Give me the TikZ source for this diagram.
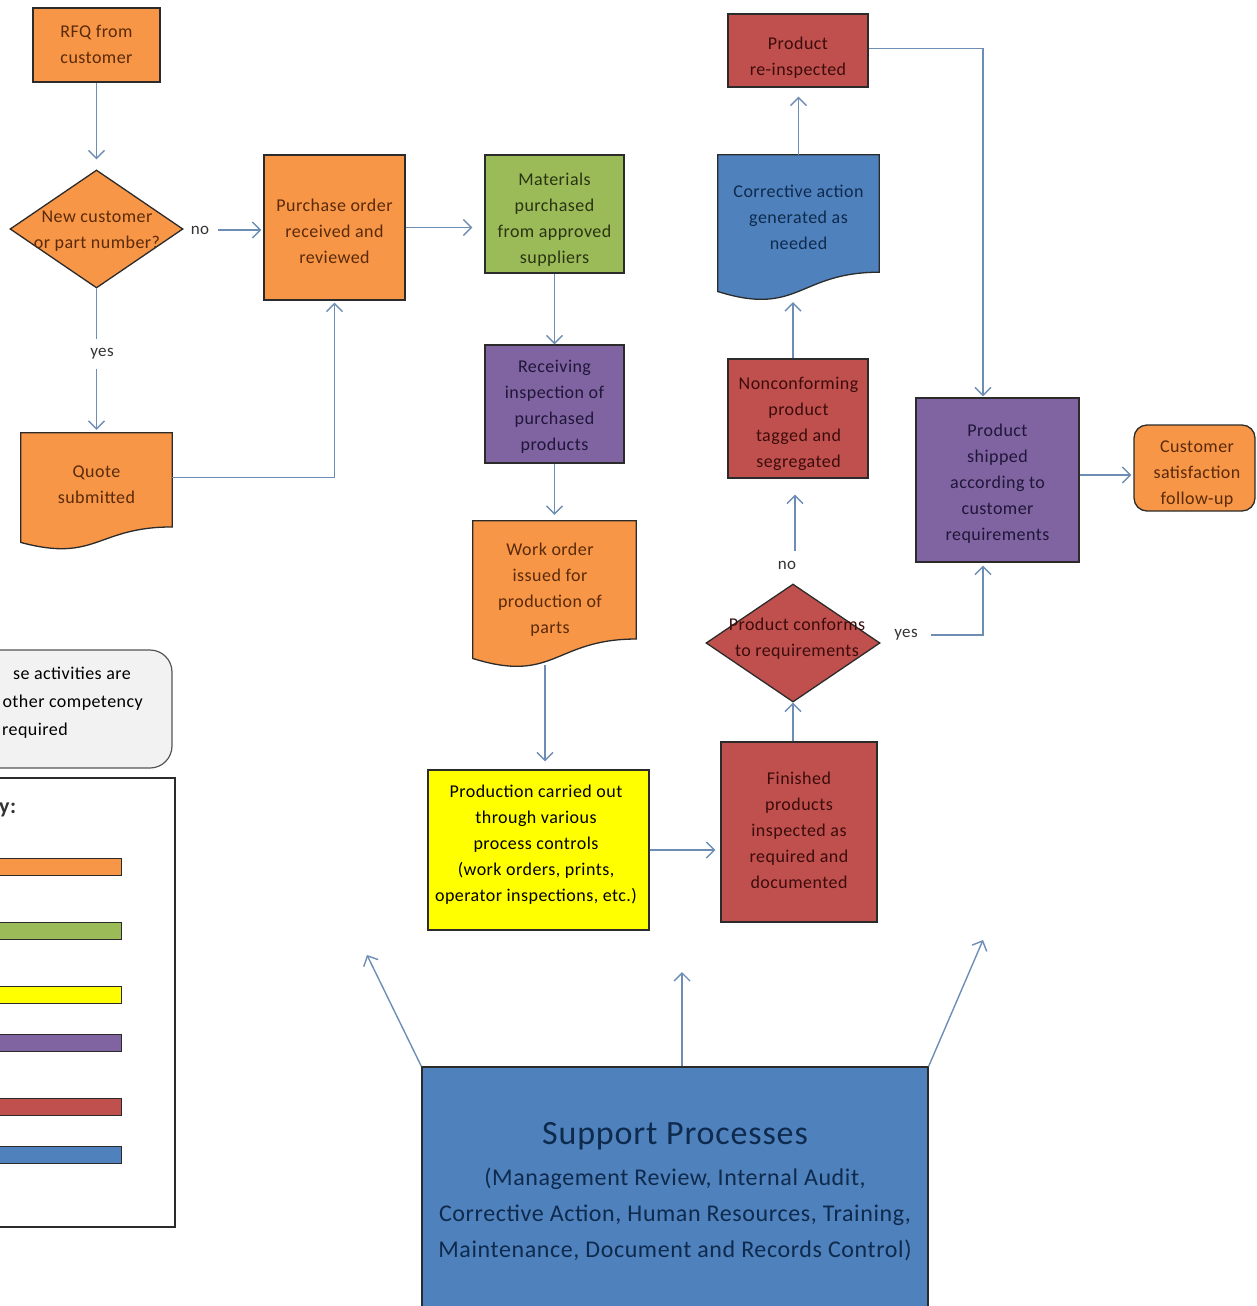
\documentclass[tikz,border=0pt]{standalone}
\usepackage{fontspec}
\setmainfont{Carlito}[LetterSpace=2.5]
\usetikzlibrary{shapes.geometric,arrows.meta,calc,backgrounds}
\definecolor{cOr}{HTML}{F79646}
\definecolor{cGr}{HTML}{9BBB59}
\definecolor{cPu}{HTML}{8064A2}
\definecolor{cRe}{HTML}{C0504D}
\definecolor{cBl}{HTML}{4F81BD}
\definecolor{cYe}{HTML}{FFFF00}
\definecolor{cNote}{HTML}{F2F2F2}
\definecolor{cBorder}{HTML}{2B2B2B}
\definecolor{cLine}{HTML}{6E8DB5}
\definecolor{tOr}{HTML}{5A2A0A}
\definecolor{tRe}{HTML}{3C0C0C}
\definecolor{tBl}{HTML}{0E2A4D}
\definecolor{tPu}{HTML}{1F1638}
\definecolor{tGr}{HTML}{2A3312}
\definecolor{tLab}{HTML}{333333}
\newcommand\docpath[2]{%
  \path[draw=cBorder,line width=1.3pt,fill=#2] (#1.north west) -- (#1.north east)
   -- ($(#1.north east)!0.802!(#1.south east)$)
   .. controls ($(#1.north)!0.802!(#1.south)$) and ($(#1.north)!1.1075!(#1.south)$)
   .. ($(#1.north west)!0.934!(#1.south west)$) -- cycle;}
\begin{document}
\begin{tikzpicture}[x=1pt,y=-1pt,
  boxsty/.style={draw=cBorder,line width=1.3pt,inner sep=0pt},
  txtsty/.style={align=center,inner sep=0pt,font=\fontsize{18}{26}\selectfont},
  dmd/.style={diamond,draw=cBorder,line width=1.3pt,inner sep=0pt},
  lab/.style={text=tLab,inner sep=9pt,font=\fontsize{17}{20}\selectfont},
  arr/.style={draw=cLine,line width=1.4pt,-{Straight Barb[length=8pt,width=16pt]}},
  ln/.style={draw=cLine,line width=1.4pt},
  keybar/.style={draw=cBorder,line width=1pt}
]
\useasboundingbox (0,0) rectangle (1256,1306);
\clip (0,0) rectangle (1256,1306);

% ---- boxes ----
\node[boxsty,fill=cOr,minimum width=127pt,minimum height=74pt] (rfq) at (96.5,45) {};
\node[txtsty,text=tOr] (rfqt) at (96.5,44) {RFQ from\\customer};

\node[dmd,fill=cOr,minimum width=173pt,minimum height=118pt] (newq) at (96.5,229) {};
\node[txtsty,text=tOr] (newqt) at (97,231) {New customer\\or part number?};

\node[boxsty,fill=cOr,minimum width=141pt,minimum height=145pt] (po) at (334.5,227.5) {};
\node[txtsty,text=tOr] (pot) at (334.5,231) {Purchase order\\received and\\reviewed};

\node[minimum width=151pt,minimum height=117pt,inner sep=0pt] (quote) at (96.5,491.5) {};
\begin{scope}[on background layer]\docpath{quote}{cOr}\end{scope}
\node[txtsty,text=tOr] (quotet) at (96.5,485) {Quote\\submitted};

\node[boxsty,fill=cGr,minimum width=139pt,minimum height=118pt] (mat) at (554.5,214) {};
\node[txtsty,text=tGr] (matt) at (554.5,219.5) {Materials\\purchased\\from approved\\suppliers};

\node[boxsty,fill=cPu,minimum width=139pt,minimum height=118pt] (rec) at (554.5,404) {};
\node[txtsty,text=tPu] (rect) at (554.5,406.5) {Receiving\\inspection of\\purchased\\products};

\node[minimum width=163pt,minimum height=147pt,inner sep=0pt] (wo) at (554.5,594.5) {};
\begin{scope}[on background layer]\docpath{wo}{cOr}\end{scope}
\node[txtsty,text=tOr] (wot) at (550,590) {Work order\\issued for\\production of\\parts};

\node[boxsty,fill=cYe,minimum width=221pt,minimum height=160pt] (prod) at (538.5,850) {};
\node[txtsty,text=black] (prodt) at (536,845) {Production carried out\\through various\\process controls\\(work orders, prints,\\operator inspections, etc.)};

\node[boxsty,fill=cRe,minimum width=156pt,minimum height=180pt] (fin) at (799,832) {};
\node[txtsty,text=tRe] (fint) at (799,830) {Finished\\products\\inspected as\\required and\\documented};

\node[dmd,fill=cRe,minimum width=174pt,minimum height=118pt] (conf) at (793,643) {};
\node[txtsty,text=tRe] (conft) at (797,639) {Product conforms\\to requirements};

\node[boxsty,fill=cRe,minimum width=140pt,minimum height=119pt] (nc) at (798,418.5) {};
\node[txtsty,text=tRe] (nct) at (798.5,424) {Nonconforming\\product\\tagged and\\segregated};

\node[minimum width=161pt,minimum height=146pt,inner sep=0pt] (ca) at (798.5,228) {};
\begin{scope}[on background layer]\docpath{ca}{cBl}\end{scope}
\node[txtsty,text=tBl] (cat) at (798.5,217) {Corrective action\\generated as\\needed};

\node[boxsty,fill=cRe,minimum width=140pt,minimum height=73pt] (reins) at (798,50.5) {};
\node[txtsty,text=tRe] (reinst) at (798,58) {Product\\re-inspected};

\node[boxsty,fill=cPu,minimum width=163pt,minimum height=164pt] (ship) at (997.5,480) {};
\node[txtsty,text=tPu] (shipt) at (997.5,484) {Product\\shipped\\according to\\customer\\requirements};

\node[boxsty,fill=cOr,rounded corners=13pt,minimum width=121pt,minimum height=86pt] (cs) at (1194.5,468) {};
\node[txtsty,text=tOr] (cst) at (1197,474) {Customer\\satisfaction\\follow-up};

\node[boxsty,fill=cBl,minimum width=506pt,minimum height=245pt] (sup) at (675,1189.5) {};
\node[inner sep=0pt,text=tBl,font=\fontsize{34}{40}\selectfont] (supt) at (675,1136) {Support Processes};
\node[txtsty,text=tBl,font=\fontsize{24}{36}\selectfont] (sups) at (675,1214) {(Management Review, Internal Audit,\\Corrective Action, Human Resources, Training,\\Maintenance, Document and Records Control)};

% labels
\node[lab] (no1) at (200,230) {no};
\node[lab] (yes1) at (102,354) {yes};
\node[lab,inner sep=10pt] (no2) at (787,565) {no};
\node[lab] (yes2) at (906,635) {yes};

% note and key (partly cut at the left edge)
\draw[draw=cBorder!80,line width=1.2pt,fill=cNote,rounded corners=22pt] (-40,650) rectangle (172,768);
\node[anchor=east,inner sep=0pt,font=\fontsize{18}{22}\selectfont] (note1) at (131,673) {se activities are};
\node[anchor=east,inner sep=0pt,font=\fontsize{18}{22}\selectfont] (note2) at (143,703) {other competency};
\node[anchor=east,inner sep=0pt,font=\fontsize{18}{22}\selectfont] (note3) at (68,731) {required};

\draw[draw=cBorder,line width=1.3pt,fill=white] (-5,778) rectangle (175,1227);
\node[anchor=west,inner sep=0pt,font=\fontsize{22}{26}\selectfont\bfseries,text=tLab] (keyt) at (-1,810) {y:};
\draw[keybar,fill=cOr] (-5,858) rectangle (121,875);
\draw[keybar,fill=cGr] (-5,922) rectangle (121,939);
\draw[keybar,fill=cYe] (-5,986) rectangle (121,1003);
\draw[keybar,fill=cPu] (-5,1034) rectangle (121,1051);
\draw[keybar,fill=cRe] (-5,1098) rectangle (121,1115);
\draw[keybar,fill=cBl] (-5,1146) rectangle (121,1163);

% ---- connectors ----
\draw[arr,shorten >=10pt] (rfq.south) -- (newq.north);
\draw[arr,shorten >=2pt] (no1.east) -- (no1.east -| po.west);
\draw[ln] (newq.south) -- (newq.south |- yes1.north);
\draw[arr,shorten >=3pt] (yes1.south -| quote.north) -- (quote.north);
\draw[arr,shorten >=2pt] ([yshift=14pt]quote.east) -| (po.south);
\draw[arr,shorten >=12pt] (po.east) -- (po.east -| mat.west);
\draw[arr] (mat.south) -- (rec.north);
\draw[arr,shorten >=6pt] (rec.south) -- (rec.south |- wo.north);
\coordinate (wob) at ([xshift=-9.5pt]wo.south);
\draw[arr,shorten >=8pt] ([yshift=3pt]wob) -- (wob |- prod.north);
\draw[arr,shorten >=5pt] (prod.east) -- (prod.east -| fin.west);
\draw[arr] (fin.north -| conf.south) -- (conf.south);
\coordinate (ncb) at ([xshift=-3pt]nc.south);
\draw[arr,shorten >=16pt] (no2.north -| ncb) -- (ncb);
\draw[arr,shorten >=1pt] ([xshift=-5pt]nc.north) -- ([xshift=-5pt]nc.north |- ca.south);
\draw[arr,shorten >=9pt] (ca.north) -- (ca.north |- reins.south);
\coordinate (shipN) at ([xshift=-14.5pt]ship.north);
\coordinate (shipS) at ([xshift=-14.5pt]ship.south);
\draw[arr,shorten >=1pt] ([yshift=2pt]reins.east) -| (shipN);
\draw[arr,shorten >=3pt] ([xshift=4pt]yes2.east) -| (shipS);
\draw[arr,shorten >=2pt] ([yshift=5pt]ship.east) -- ([yshift=5pt]ship.east -| cs.west);
\coordinate (s1) at (367,955);
\coordinate (s2) at (682,972);
\coordinate (s3) at (983,940);
\draw[arr] (sup.north west) -- (s1);
\draw[arr] (s2 |- sup.north) -- (s2);
\draw[arr] (sup.north east) -- (s3);
\end{tikzpicture}
\end{document}
